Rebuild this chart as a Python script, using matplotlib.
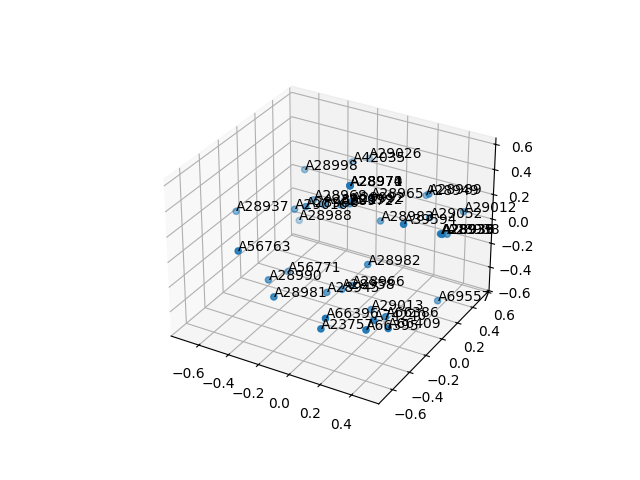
import matplotlib
matplotlib.use('Agg')
import matplotlib.pyplot as plt

labels = ['A28998', 'A42035', 'A29026', 'A28971', 'A28970', 'A28974', 'A28937', 'A29016', 'A28988',
          'A28968', 'A28986', 'A28991', 'A28972', 'A29092', 'A28992', 'A28965', 'A28989', 'A28949',
          'A29012', 'A29052', 'A28983', 'A39594', 'A28939', 'A28938', 'A28933', 'A28936', 'A28982',
          'A56763', 'A56771', 'A28990', 'A28981', 'A28945', 'A28958', 'A28966', 'A29013', 'A66396',
          'A23757', 'A66395', 'A74240', 'A66386', 'A66409', 'A69557']
xs = [-0.489, -0.259, -0.222, 0.034, 0.034, 0.034, -0.723, -0.419, -0.521,
      -0.341, -0.274, -0.256, -0.093, -0.019, -0.099, -0.037, 0.308, 0.195,
      0.445, 0.328, 0.058, 0.363, 0.476, 0.471, 0.466, 0.477, 0.125,
      -0.418, -0.4, -0.367, -0.228, -0.061, -0.007, 0.041, 0.173, 0.138,
      0.112, 0.332, 0.328, 0.341, 0.441, 0.466]
ys = [0.259, 0.424, 0.563, -0.131, -0.131, -0.131, -0.136, 0.021, 0.244,
      0.106, -0.097, 0.075, -0.009, -0.016, 0.106, 0.252, 0.307, 0.498,
      0.488, 0.285, 0.191, -0.107, 0.131, 0.227, 0.176, 0.144, -0.082,
      -0.6, -0.095, -0.367, -0.537, -0.228, -0.146, -0.116, -0.125, -0.59,
      -0.596, -0.476, -0.381, -0.262, -0.419, 0.141]
zs = [0.256, 0.302, 0.266, 0.52, 0.52, 0.52, 0.063, 0.092, -0.167,
      0.146, 0.231, 0.155, 0.257, 0.311, 0.196, 0.178, 0.296, 0.137,
      0.095, 0.126, 0.061, 0.318, 0.139, 0.077, 0.105, 0.13, -0.103,
      0.129, -0.345, -0.23, -0.208, -0.307, -0.315, -0.284, -0.427, -0.206,
      -0.296, -0.299, -0.287, -0.331, -0.282, -0.415]

fig = plt.figure(figsize=(6.4, 4.8), dpi=100)
ax = fig.add_subplot(projection='3d')
ax.scatter(xs, ys, zs)
for i in range(len(labels)):
    ax.text(xs[i], ys[i], zs[i], labels[i])
ax.set_xlim(-0.79, 0.57)
ax.set_ylim(-0.76, 0.62)
ax.set_zlim(-0.6, 0.65)
fig.savefig('out.png')
